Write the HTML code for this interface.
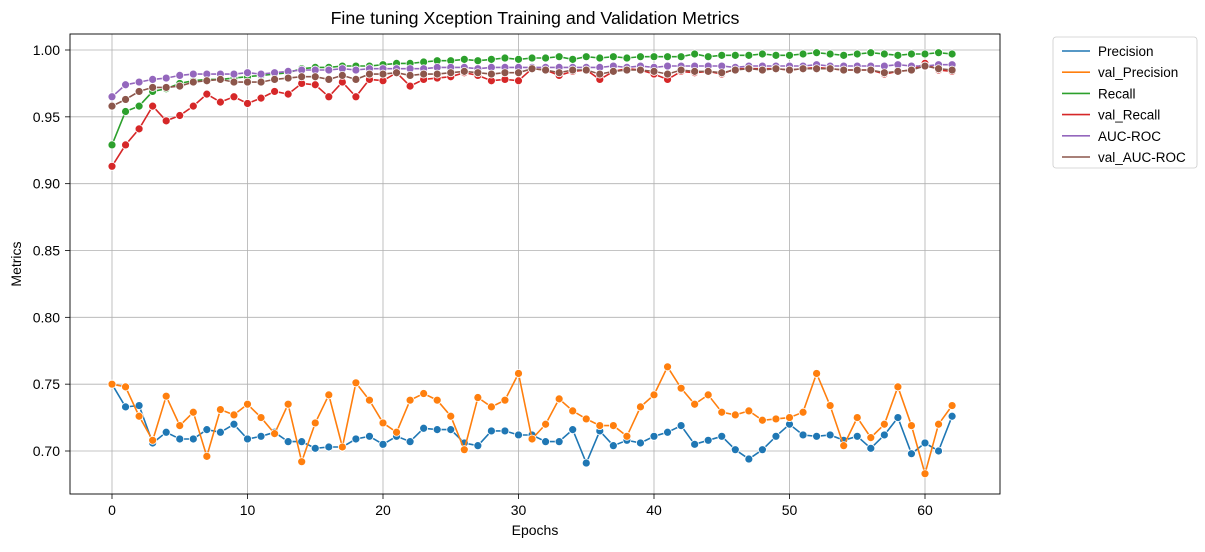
<!DOCTYPE html>
<html><head><meta charset="utf-8"><style>
body{margin:0;background:#fff;font-family:"Liberation Sans",sans-serif}
svg text{font-family:"Liberation Sans","DejaVu Sans",sans-serif}
</style></head><body>
<svg id="chart" width="1205" height="547" xmlns="http://www.w3.org/2000/svg">
<rect width="1205" height="547" fill="#fff"/>
<text x="535" y="24" font-size="17.8" text-anchor="middle">Fine tuning Xception Training and Validation Metrics</text>
<g id="grid"></g>
<g id="series"></g>
<rect x="70" y="34" width="930" height="460" fill="none" stroke="#000" stroke-width="0.9"/>
<g id="axes"></g>
<text x="535" y="535" font-size="14" text-anchor="middle">Epochs</text>
<text transform="translate(21,264) rotate(-90)" font-size="14" text-anchor="middle">Metrics</text>
<g id="legend"></g>
</svg>
<script>
const epochs = Array.from({length:63},(_,i)=>i);
const seriesNames = ["Precision","val_Precision","Recall","val_Recall","AUC-ROC","val_AUC-ROC"];
const colors = ["#1f77b4","#ff7f0e","#2ca02c","#d62728","#9467bd","#8c564b"];
const precision = [0.750,0.733,0.734,0.706,0.714,0.709,0.709,0.716,0.714,0.720,0.709,0.711,0.714,0.707,0.707,0.702,0.703,0.703,0.709,0.711,0.705,0.711,0.707,0.717,0.716,0.716,0.706,0.704,0.715,0.715,0.712,0.712,0.707,0.707,0.716,0.691,0.715,0.704,0.708,0.706,0.711,0.714,0.719,0.705,0.708,0.711,0.701,0.694,0.701,0.711,0.720,0.712,0.711,0.712,0.708,0.711,0.702,0.712,0.725,0.698,0.706,0.700,0.726];
const valPrecision = [0.750,0.748,0.726,0.708,0.741,0.719,0.729,0.696,0.731,0.727,0.735,0.725,0.713,0.735,0.692,0.721,0.742,0.703,0.751,0.738,0.721,0.714,0.738,0.743,0.738,0.726,0.701,0.740,0.733,0.738,0.758,0.709,0.720,0.739,0.730,0.724,0.719,0.719,0.711,0.733,0.742,0.763,0.747,0.735,0.742,0.729,0.727,0.730,0.723,0.724,0.725,0.729,0.758,0.734,0.704,0.725,0.710,0.720,0.748,0.719,0.683,0.720,0.734];
const recall = [0.929,0.954,0.958,0.969,0.971,0.975,0.977,0.978,0.978,0.979,0.980,0.981,0.982,0.983,0.986,0.987,0.987,0.988,0.988,0.988,0.989,0.990,0.990,0.991,0.992,0.992,0.993,0.992,0.993,0.994,0.993,0.994,0.994,0.995,0.993,0.995,0.994,0.995,0.994,0.995,0.995,0.995,0.995,0.997,0.995,0.996,0.996,0.996,0.997,0.996,0.996,0.997,0.998,0.997,0.996,0.997,0.998,0.997,0.996,0.997,0.997,0.998,0.997];
const valRecall = [0.913,0.929,0.941,0.958,0.947,0.951,0.958,0.967,0.961,0.965,0.960,0.964,0.969,0.967,0.975,0.974,0.965,0.976,0.965,0.978,0.977,0.983,0.973,0.978,0.979,0.980,0.983,0.981,0.977,0.978,0.977,0.986,0.985,0.981,0.984,0.985,0.978,0.984,0.986,0.985,0.982,0.978,0.984,0.983,0.984,0.982,0.986,0.986,0.986,0.986,0.985,0.986,0.987,0.986,0.985,0.985,0.985,0.982,0.984,0.985,0.990,0.985,0.984];
const aucRoc = [0.965,0.974,0.976,0.978,0.979,0.981,0.982,0.982,0.982,0.982,0.983,0.982,0.983,0.984,0.985,0.985,0.985,0.986,0.985,0.986,0.986,0.986,0.986,0.986,0.987,0.987,0.987,0.986,0.987,0.987,0.987,0.987,0.987,0.987,0.987,0.987,0.987,0.988,0.987,0.988,0.987,0.988,0.988,0.988,0.988,0.988,0.987,0.988,0.988,0.988,0.988,0.988,0.989,0.988,0.988,0.988,0.988,0.988,0.989,0.988,0.988,0.989,0.989];
const valAucRoc = [0.958,0.963,0.969,0.972,0.972,0.973,0.976,0.977,0.978,0.976,0.976,0.976,0.978,0.979,0.980,0.980,0.978,0.981,0.978,0.982,0.982,0.983,0.981,0.982,0.982,0.983,0.984,0.983,0.982,0.983,0.983,0.986,0.985,0.983,0.985,0.985,0.982,0.984,0.985,0.985,0.984,0.982,0.985,0.984,0.984,0.983,0.985,0.986,0.985,0.986,0.985,0.986,0.986,0.986,0.985,0.985,0.985,0.983,0.984,0.985,0.988,0.986,0.985];
const xTicks = [0,10,20,30,40,50,60];
const yTicks = [0.70,0.75,0.80,0.85,0.90,0.95,1.00];
const allSeries = [precision,valPrecision,recall,valRecall,aucRoc,valAucRoc];

const NS="http://www.w3.org/2000/svg";
const X = v => 112 + (v-0)*(925-112)/60;
const Y = v => 451 - (v-0.70)*(451-50)/0.30;
function mk(tag,attrs,parent){const e=document.createElementNS(NS,tag);for(const k in attrs)e.setAttribute(k,attrs[k]);parent.appendChild(e);return e;}
const grid=document.getElementById('grid'), axes=document.getElementById('axes'), ser=document.getElementById('series'), leg=document.getElementById('legend');
xTicks.forEach(t=>{
  const l=mk('line',{x1:X(t),x2:X(t),y1:34,y2:494,stroke:'#b0b0b0','stroke-width':0.8},grid);
  
  
  mk('line',{x1:X(t),x2:X(t),y1:494,y2:499,stroke:'#000','stroke-width':0.8},axes);
  const tx=mk('text',{x:X(t),y:515,'font-size':14,'text-anchor':'middle'},axes);
  tx.textContent=t;
  
  
});
yTicks.forEach(t=>{
  const l=mk('line',{x1:70,x2:1000,y1:Y(t),y2:Y(t),stroke:'#b0b0b0','stroke-width':0.8},grid);
  
  
  mk('line',{x1:65,x2:70,y1:Y(t),y2:Y(t),stroke:'#000','stroke-width':0.8},axes);
  const tx=mk('text',{x:60,y:Y(t)+5,'font-size':14,'text-anchor':'end'},axes);
  tx.textContent=t.toFixed(2);
  
  
});
allSeries.forEach((vals,si)=>{
  const g=mk('g',{},ser);
  
  
  const pts=vals.map((v,i)=>X(epochs[i]).toFixed(1)+','+Y(v).toFixed(1)).join(' ');
  mk('polyline',{points:pts,fill:'none',stroke:colors[si],'stroke-width':1.6},g);
  vals.forEach((v,i)=>{
    const c=mk('circle',{cx:X(epochs[i]),cy:Y(v),r:4,fill:colors[si],stroke:'#fff','stroke-width':0.8},g);
    
    
  });
});
mk('rect',{x:1053,y:37,width:144,height:131,rx:3,fill:'#fff',stroke:'#ccc','stroke-width':0.8},leg);
seriesNames.forEach((n,i)=>{
  const y=51+i*21.2;
  const g=mk('g',{},leg);
  
  
  mk('line',{x1:1062,x2:1090,y1:y,y2:y,stroke:colors[i],'stroke-width':1.6},g);
  const t=mk('text',{x:1098,y:y+5,'font-size':13.5},g);
  t.textContent=n;
});
</script>
</body></html>
